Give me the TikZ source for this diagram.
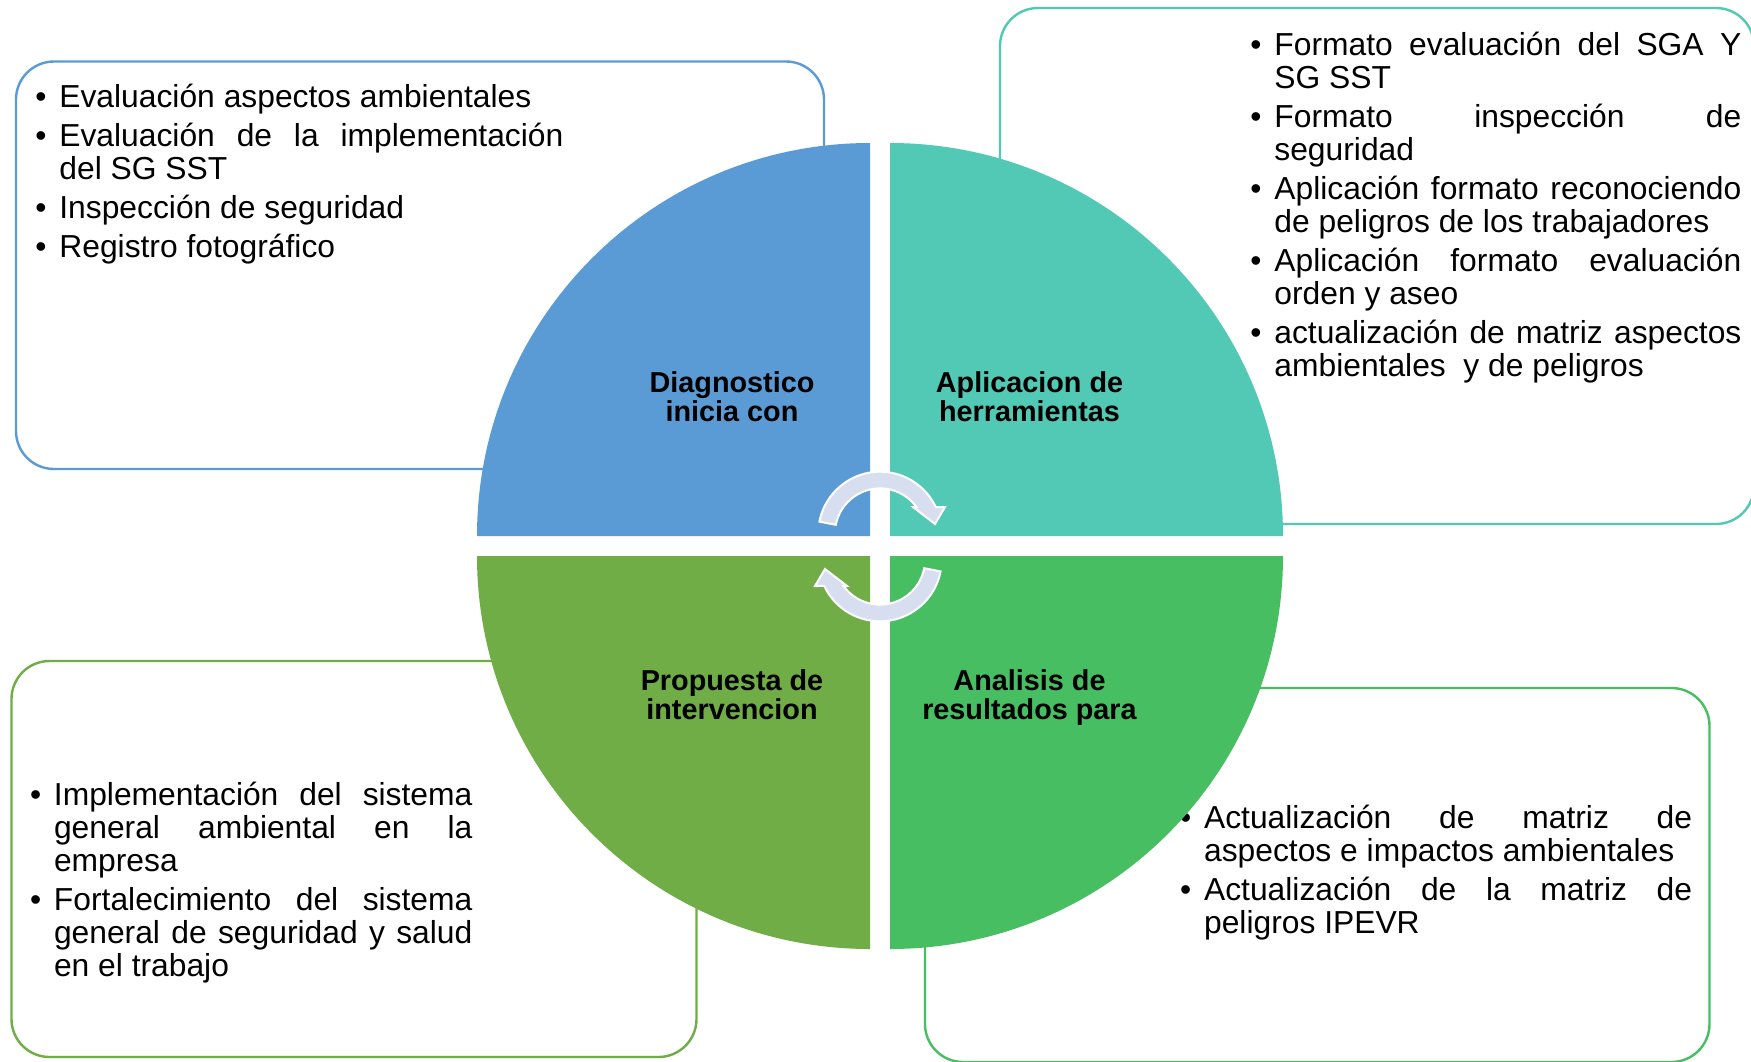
\documentclass[tikz,border=0pt]{standalone}
\usepackage{fontspec}
\setmainfont{Liberation Sans}
\definecolor{cblue}{HTML}{5B9BD5}
\definecolor{cteal}{HTML}{52C9B5}
\definecolor{cgreen}{HTML}{48BE63}
\definecolor{colive}{HTML}{70AD47}
\definecolor{carrow}{HTML}{D6DEEF}
\newcommand{\bul}[1]{\par\noindent\hangindent=10pt\hangafter=1\makebox[10pt][l]{\hspace{-2pt}•}#1}
\tikzset{
  boxline/.style={draw=#1, line width=1.2pt, rounded corners=19pt, fill=white},
  boxtext/.style={anchor=north west, inner sep=0pt, text width=#1, align=justify,
    font=\fontsize{15.9}{16.5}\selectfont,
    execute at begin node={\setlength{\parskip}{3pt}\setlength{\parindent}{0pt}%
      \tolerance=10000\hyphenpenalty=10000\exhyphenpenalty=10000\emergencystretch=30pt}},
  qlabel/.style={anchor=north, inner sep=0pt, align=center,
    font=\bfseries\fontsize{14.4}{14.65}\selectfont},
  arrowsty/.style={fill=carrow, draw=white, line width=1pt, line join=miter}
}
\begin{document}
\begin{tikzpicture}[x=0.5pt,y=-0.5pt]
\useasboundingbox (0,0) rectangle (1751,1061);
\fill[white] (0,0) rectangle (1751,1061);

% outline boxes
\draw[boxline=cblue] (16,61.5) rectangle (824,469);
\draw[boxline=cteal] (1000,8) rectangle (1754,524);
\draw[boxline=cgreen] (925,688) rectangle (1709.5,1062);
\draw[boxline=colive] (11.5,661) rectangle (696.5,1057);

% box texts
\node[boxtext=262pt] (t1) at (39,68.2) {%
\bul{\rule{0pt}{13pt}Evaluación aspectos ambientales}
\bul{Evaluación de la implementación\linebreak del SG SST}
\bul{Inspección de seguridad}
\bul{Registro fotográfico}\par};

\node[boxtext=243.5pt] (t2) at (1254,16.4) {%
\bul{\rule{0pt}{13pt}Formato evaluación del SGA Y\linebreak SG SST}
\bul{Formato inspección de\linebreak seguridad}
\bul{Aplicación formato reconociendo\linebreak de peligros de los trabajadores}
\bul{Aplicación formato evaluación\linebreak orden y aseo}
\bul{actualización de matriz aspectos\linebreak ambientales~ y de peligros}\par};

\node[boxtext=254pt] (t3) at (1183.7,788.7) {%
\bul{\rule{0pt}{13pt}Actualización de matriz de\linebreak aspectos e impactos ambientales}
\bul{Actualización de la matriz de\linebreak peligros IPEVR}\par};

\node[boxtext=219.2pt] (t4) at (33.6,765.7) {%
\bul{\rule{0pt}{13pt}Implementación del sistema\linebreak general ambiental en la\linebreak empresa}
\bul{Fortalecimiento del sistema\linebreak general de seguridad y salud\linebreak en el trabajo}\par};

% quadrants
\fill[cblue] (870,536) -- (477,536) arc[start angle=-180, end angle=-90, radius=393] -- cycle;
\fill[cteal] (890,536) -- (890,143) arc[start angle=-90, end angle=0, radius=393] -- cycle;
\fill[cgreen] (890,556) -- (1283,556) arc[start angle=0, end angle=90, radius=393] -- cycle;
\fill[colive] (870,556) -- (870,949) arc[start angle=90, end angle=180, radius=393] -- cycle;

% cycle arrows
\filldraw[arrowsty] ([shift={(-169:61.7)}]880,533.4) arc[start angle=-169, end angle=-25.3, radius=61.7]
  -- (945,507) -- (935,524) -- (913,507) -- (916.45,507)
  arc[start angle=-35.9, end angle=-169, radius=45] -- cycle;
\begin{scope}[rotate around={180:(880,546.5)}]
\filldraw[arrowsty] ([shift={(-169:61.7)}]880,533.4) arc[start angle=-169, end angle=-25.3, radius=61.7]
  -- (945,507) -- (935,524) -- (913,507) -- (916.45,507)
  arc[start angle=-35.9, end angle=-169, radius=45] -- cycle;
\end{scope}

% quadrant labels
\node[qlabel] (q1) at (732,370) {\rule{0pt}{11pt}Diagnostico\\inicia con};
\node[qlabel] (q2) at (1029.5,370) {\rule{0pt}{11pt}Aplicacion de\\herramientas};
\node[qlabel] (q3) at (732,668) {\rule{0pt}{11pt}Propuesta de\\intervencion};
\node[qlabel] (q4) at (1029.5,668) {\rule{0pt}{11pt}Analisis de\\resultados para};
\end{tikzpicture}
\end{document}
